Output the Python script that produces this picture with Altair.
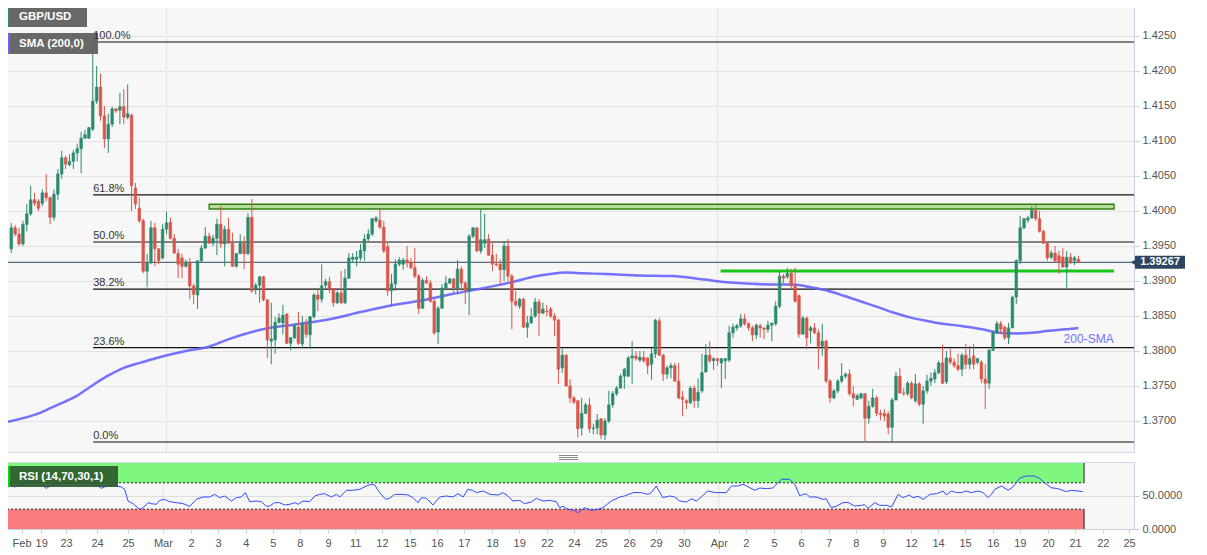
import json
import altair as alt
import pandas as pd

FONT = "Liberation Sans"

# ---------------- candle data (4h GBP/USD) ----------------
opens = [
    1.3946, 1.3976, 1.3967, 1.3953, 1.3981, 1.3996, 1.4016, 1.4014, 1.4011, 1.4026,
    1.4019, 1.3991, 1.4024, 1.4053, 1.4076, 1.4066, 1.4071, 1.4083, 1.4089, 1.4104,
    1.4104, 1.4117, 1.4157, 1.4177, 1.4136, 1.4103, 1.4124, 1.4146, 1.4144, 1.4149,
    1.4134, 1.4137, 1.4033, 1.4004, 1.3986, 1.3914, 1.3926, 1.3976, 1.3946, 1.3933,
    1.3974, 1.3984, 1.3961, 1.3939, 1.3933, 1.3921, 1.3926, 1.3893, 1.3880, 1.3929,
    1.3947, 1.3964, 1.3954, 1.3961, 1.3981, 1.3953, 1.3974, 1.3954, 1.3921, 1.3939,
    1.3954, 1.3939, 1.3991, 1.3889, 1.3894, 1.3906, 1.3873, 1.3814, 1.3816, 1.3841,
    1.3840, 1.3853, 1.3811, 1.3819, 1.3834, 1.3810, 1.3839, 1.3823, 1.3849, 1.3880,
    1.3874, 1.3894, 1.3899, 1.3889, 1.3869, 1.3883, 1.3869, 1.3904, 1.3931, 1.3931,
    1.3933, 1.3943, 1.3960, 1.3967, 1.3986, 1.3987, 1.3977, 1.3949, 1.3886, 1.3896,
    1.3924, 1.3924, 1.3930, 1.3926, 1.3919, 1.3907, 1.3861, 1.3901, 1.3897, 1.3871,
    1.3827, 1.3861, 1.3890, 1.3897, 1.3903, 1.3890, 1.3917, 1.3897, 1.3886, 1.3964,
    1.3976, 1.3943, 1.3954, 1.3960, 1.3937, 1.3924, 1.3924, 1.3916, 1.3950, 1.3907,
    1.3871, 1.3864, 1.3874, 1.3834, 1.3840, 1.3850, 1.3870, 1.3854, 1.3857, 1.3860,
    1.3850, 1.3844, 1.3776, 1.3794, 1.3750, 1.3733, 1.3729, 1.3690, 1.3711, 1.3723,
    1.3689, 1.3690, 1.3703, 1.3680, 1.3700, 1.3723, 1.3739, 1.3747, 1.3764, 1.3764,
    1.3790, 1.3793, 1.3787, 1.3791, 1.3790, 1.3781, 1.3796, 1.3843, 1.3794, 1.3767,
    1.3776, 1.3779, 1.3757, 1.3734, 1.3729, 1.3726, 1.3747, 1.3729, 1.3743, 1.3770,
    1.3794, 1.3786, 1.3789, 1.3783, 1.3786, 1.3787, 1.3826, 1.3833, 1.3836, 1.3846,
    1.3839, 1.3833, 1.3823, 1.3836, 1.3833, 1.3831, 1.3837, 1.3839, 1.3864, 1.3907,
    1.3906, 1.3911, 1.3893, 1.3879, 1.3824, 1.3847, 1.3829, 1.3833, 1.3826, 1.3807,
    1.3814, 1.3757, 1.3733, 1.3743, 1.3757, 1.3764, 1.3767, 1.3739, 1.3731, 1.3733,
    1.3739, 1.3704, 1.3721, 1.3733, 1.3711, 1.3711, 1.3710, 1.3691, 1.3730, 1.3764,
    1.3740, 1.3739, 1.3754, 1.3729, 1.3753, 1.3724, 1.3743, 1.3757, 1.3760, 1.3769,
    1.3783, 1.3756, 1.3790, 1.3784, 1.3779, 1.3774, 1.3794, 1.3781, 1.3793, 1.3784,
    1.3784, 1.3760, 1.3754, 1.3801, 1.3826, 1.3839, 1.3834, 1.3819, 1.3833, 1.3877,
    1.3929, 1.3976, 1.3987, 1.3990, 1.4001, 1.3989, 1.3971, 1.3954, 1.3934, 1.3940,
    1.3936, 1.3934, 1.3920, 1.3934, 1.3929, 1.3931,
]
highs = [
    1.3983, 1.3980, 1.3976, 1.3986, 1.4010, 1.4036, 1.4026, 1.4017, 1.4031, 1.4053,
    1.4021, 1.4031, 1.4060, 1.4086, 1.4079, 1.4081, 1.4087, 1.4096, 1.4113, 1.4116,
    1.4120, 1.4243, 1.4207, 1.4196, 1.4150, 1.4139, 1.4149, 1.4147, 1.4169, 1.4174,
    1.4181, 1.4139, 1.4040, 1.4019, 1.3989, 1.3939, 1.3986, 1.3983, 1.3947, 1.3981,
    1.3999, 1.3991, 1.3967, 1.3946, 1.3939, 1.3931, 1.3933, 1.3896, 1.3929, 1.3951,
    1.3977, 1.3969, 1.3966, 1.3989, 1.4007, 1.3979, 1.3990, 1.3969, 1.3940, 1.3967,
    1.3964, 1.3997, 1.4017, 1.3897, 1.3907, 1.3907, 1.3874, 1.3869, 1.3849, 1.3854,
    1.3866, 1.3853, 1.3820, 1.3839, 1.3856, 1.3850, 1.3846, 1.3850, 1.3883, 1.3889,
    1.3924, 1.3903, 1.3906, 1.3890, 1.3886, 1.3914, 1.3917, 1.3940, 1.3940, 1.3943,
    1.3953, 1.3967, 1.3974, 1.3990, 1.3993, 1.4004, 1.3986, 1.3954, 1.3910, 1.3931,
    1.3934, 1.3933, 1.3950, 1.3933, 1.3947, 1.3910, 1.3904, 1.3907, 1.3901, 1.3874,
    1.3864, 1.3896, 1.3907, 1.3904, 1.3904, 1.3930, 1.3921, 1.3900, 1.3967, 1.3977,
    1.3976, 1.4003, 1.3996, 1.3967, 1.3954, 1.3939, 1.3931, 1.3957, 1.3960, 1.3910,
    1.3886, 1.3876, 1.3876, 1.3850, 1.3861, 1.3876, 1.3874, 1.3869, 1.3866, 1.3863,
    1.3854, 1.3846, 1.3803, 1.3796, 1.3760, 1.3736, 1.3730, 1.3733, 1.3726, 1.3733,
    1.3696, 1.3710, 1.3704, 1.3704, 1.3743, 1.3743, 1.3750, 1.3767, 1.3776, 1.3793,
    1.3814, 1.3800, 1.3800, 1.3800, 1.3791, 1.3804, 1.3846, 1.3847, 1.3796, 1.3779,
    1.3783, 1.3783, 1.3783, 1.3743, 1.3731, 1.3750, 1.3751, 1.3761, 1.3796, 1.3810,
    1.3814, 1.3791, 1.3790, 1.3790, 1.3790, 1.3836, 1.3839, 1.3839, 1.3853, 1.3853,
    1.3841, 1.3836, 1.3839, 1.3839, 1.3833, 1.3843, 1.3840, 1.3871, 1.3914, 1.3910,
    1.3919, 1.3917, 1.3919, 1.3881, 1.3850, 1.3849, 1.3836, 1.3840, 1.3831, 1.3839,
    1.3816, 1.3760, 1.3746, 1.3760, 1.3783, 1.3769, 1.3774, 1.3750, 1.3739, 1.3740,
    1.3739, 1.3729, 1.3746, 1.3736, 1.3716, 1.3717, 1.3714, 1.3733, 1.3770, 1.3776,
    1.3747, 1.3757, 1.3757, 1.3767, 1.3756, 1.3750, 1.3766, 1.3769, 1.3774, 1.3786,
    1.3809, 1.3800, 1.3803, 1.3789, 1.3796, 1.3797, 1.3810, 1.3807, 1.3810, 1.3790,
    1.3787, 1.3781, 1.3803, 1.3829, 1.3843, 1.3843, 1.3836, 1.3840, 1.3879, 1.3931,
    1.3993, 1.3990, 1.3993, 1.4007, 1.4009, 1.4000, 1.3973, 1.3957, 1.3944, 1.3950,
    1.3943, 1.3947, 1.3943, 1.3940, 1.3936, 1.3936,
]
lows = [
    1.3940, 1.3964, 1.3950, 1.3950, 1.3971, 1.3993, 1.4007, 1.4000, 1.4007, 1.4014,
    1.3981, 1.3986, 1.4016, 1.4046, 1.4060, 1.4064, 1.4060, 1.4071, 1.4054, 1.4104,
    1.4103, 1.4114, 1.4153, 1.4129, 1.4090, 1.4083, 1.4120, 1.4140, 1.4124, 1.4124,
    1.4131, 1.4000, 1.4003, 1.3983, 1.3911, 1.3891, 1.3924, 1.3921, 1.3924, 1.3931,
    1.3967, 1.3959, 1.3939, 1.3904, 1.3904, 1.3919, 1.3874, 1.3867, 1.3860, 1.3926,
    1.3946, 1.3953, 1.3950, 1.3937, 1.3947, 1.3921, 1.3953, 1.3920, 1.3919, 1.3939,
    1.3917, 1.3937, 1.3883, 1.3881, 1.3869, 1.3871, 1.3790, 1.3781, 1.3796, 1.3839,
    1.3824, 1.3810, 1.3801, 1.3817, 1.3809, 1.3804, 1.3819, 1.3803, 1.3846, 1.3857,
    1.3869, 1.3890, 1.3883, 1.3863, 1.3867, 1.3867, 1.3867, 1.3903, 1.3926, 1.3921,
    1.3929, 1.3929, 1.3957, 1.3964, 1.3983, 1.3974, 1.3940, 1.3879, 1.3864, 1.3886,
    1.3921, 1.3916, 1.3919, 1.3917, 1.3904, 1.3853, 1.3861, 1.3896, 1.3869, 1.3823,
    1.3810, 1.3861, 1.3890, 1.3896, 1.3881, 1.3881, 1.3886, 1.3867, 1.3851, 1.3961,
    1.3941, 1.3939, 1.3947, 1.3936, 1.3914, 1.3921, 1.3896, 1.3900, 1.3900, 1.3831,
    1.3863, 1.3860, 1.3833, 1.3819, 1.3839, 1.3847, 1.3821, 1.3853, 1.3850, 1.3847,
    1.3821, 1.3753, 1.3769, 1.3749, 1.3726, 1.3724, 1.3676, 1.3679, 1.3710, 1.3683,
    1.3681, 1.3681, 1.3674, 1.3673, 1.3697, 1.3719, 1.3736, 1.3747, 1.3746, 1.3763,
    1.3753, 1.3786, 1.3784, 1.3783, 1.3767, 1.3759, 1.3790, 1.3793, 1.3757, 1.3760,
    1.3761, 1.3756, 1.3731, 1.3707, 1.3717, 1.3724, 1.3719, 1.3719, 1.3740, 1.3769,
    1.3783, 1.3773, 1.3779, 1.3747, 1.3760, 1.3784, 1.3819, 1.3829, 1.3833, 1.3836,
    1.3829, 1.3814, 1.3817, 1.3819, 1.3817, 1.3826, 1.3814, 1.3836, 1.3861, 1.3897,
    1.3903, 1.3890, 1.3869, 1.3819, 1.3824, 1.3803, 1.3811, 1.3824, 1.3774, 1.3793,
    1.3754, 1.3726, 1.3731, 1.3740, 1.3754, 1.3761, 1.3736, 1.3721, 1.3730, 1.3731,
    1.3671, 1.3696, 1.3719, 1.3707, 1.3701, 1.3700, 1.3681, 1.3669, 1.3729, 1.3739,
    1.3736, 1.3736, 1.3731, 1.3726, 1.3721, 1.3696, 1.3739, 1.3750, 1.3754, 1.3767,
    1.3753, 1.3753, 1.3781, 1.3776, 1.3771, 1.3764, 1.3774, 1.3774, 1.3774, 1.3781,
    1.3754, 1.3717, 1.3746, 1.3800, 1.3824, 1.3824, 1.3816, 1.3810, 1.3833, 1.3867,
    1.3924, 1.3974, 1.3983, 1.3989, 1.3986, 1.3969, 1.3953, 1.3929, 1.3931, 1.3926,
    1.3910, 1.3919, 1.3887, 1.3924, 1.3923, 1.3926,
]
closes = [
    1.3976, 1.3967, 1.3953, 1.3981, 1.3996, 1.4016, 1.4011, 1.4004, 1.4026, 1.4019,
    1.3991, 1.4024, 1.4053, 1.4076, 1.4067, 1.4071, 1.4083, 1.4089, 1.4104, 1.4109,
    1.4119, 1.4157, 1.4177, 1.4136, 1.4103, 1.4124, 1.4146, 1.4143, 1.4149, 1.4134,
    1.4139, 1.4036, 1.4010, 1.3986, 1.3914, 1.3926, 1.3976, 1.3946, 1.3929, 1.3974,
    1.3983, 1.3961, 1.3940, 1.3924, 1.3921, 1.3927, 1.3893, 1.3881, 1.3929, 1.3947,
    1.3964, 1.3954, 1.3961, 1.3981, 1.3953, 1.3974, 1.3954, 1.3921, 1.3939, 1.3954,
    1.3939, 1.3991, 1.3886, 1.3894, 1.3906, 1.3873, 1.3816, 1.3817, 1.3841, 1.3847,
    1.3851, 1.3811, 1.3819, 1.3836, 1.3811, 1.3839, 1.3824, 1.3849, 1.3880, 1.3874,
    1.3893, 1.3899, 1.3889, 1.3869, 1.3883, 1.3869, 1.3904, 1.3933, 1.3934, 1.3934,
    1.3944, 1.3960, 1.3967, 1.3989, 1.3990, 1.3977, 1.3943, 1.3886, 1.3896, 1.3924,
    1.3930, 1.3930, 1.3926, 1.3919, 1.3907, 1.3861, 1.3901, 1.3897, 1.3871, 1.3826,
    1.3861, 1.3890, 1.3897, 1.3903, 1.3890, 1.3917, 1.3897, 1.3886, 1.3964, 1.3976,
    1.3943, 1.3959, 1.3959, 1.3937, 1.3924, 1.3923, 1.3916, 1.3950, 1.3907, 1.3871,
    1.3866, 1.3874, 1.3834, 1.3840, 1.3849, 1.3870, 1.3854, 1.3860, 1.3856, 1.3850,
    1.3844, 1.3774, 1.3794, 1.3750, 1.3733, 1.3727, 1.3689, 1.3711, 1.3723, 1.3689,
    1.3690, 1.3701, 1.3680, 1.3700, 1.3723, 1.3739, 1.3747, 1.3764, 1.3774, 1.3790,
    1.3793, 1.3789, 1.3791, 1.3786, 1.3779, 1.3796, 1.3844, 1.3794, 1.3767, 1.3776,
    1.3779, 1.3757, 1.3733, 1.3731, 1.3726, 1.3747, 1.3729, 1.3741, 1.3769, 1.3794,
    1.3786, 1.3789, 1.3786, 1.3789, 1.3789, 1.3826, 1.3834, 1.3836, 1.3846, 1.3839,
    1.3833, 1.3823, 1.3837, 1.3833, 1.3831, 1.3837, 1.3840, 1.3864, 1.3907, 1.3904,
    1.3911, 1.3893, 1.3871, 1.3824, 1.3847, 1.3819, 1.3833, 1.3826, 1.3807, 1.3814,
    1.3757, 1.3733, 1.3743, 1.3757, 1.3764, 1.3767, 1.3739, 1.3733, 1.3736, 1.3739,
    1.3704, 1.3721, 1.3733, 1.3711, 1.3709, 1.3707, 1.3691, 1.3730, 1.3764, 1.3740,
    1.3739, 1.3754, 1.3733, 1.3753, 1.3724, 1.3743, 1.3757, 1.3761, 1.3769, 1.3783,
    1.3754, 1.3790, 1.3784, 1.3779, 1.3774, 1.3794, 1.3781, 1.3789, 1.3781, 1.3789,
    1.3760, 1.3754, 1.3801, 1.3826, 1.3839, 1.3831, 1.3819, 1.3833, 1.3877, 1.3929,
    1.3976, 1.3989, 1.3990, 1.4001, 1.3989, 1.3971, 1.3954, 1.3933, 1.3940, 1.3929,
    1.3927, 1.3920, 1.3934, 1.3927, 1.3933, 1.39267,
]

# 200-period SMA (candle index, value)
sma_idx = [-0.84, 7.6, 11.9, 16.3, 20.4, 24.7, 29.0, 33.1, 37.5, 41.8, 45.9, 50.2, 56.1,
           64.8, 73.2, 81.7, 90.3, 98.8, 104.6, 113.3, 121.8, 130.2, 134.5, 138.9, 142.9,
           147.3, 153.2, 161.9, 170.3, 178.7, 183.1, 187.4, 195.8, 201.7, 206.0, 210.4,
           214.5, 218.8, 223.2, 227.3, 231.6, 235.9, 240.0, 244.4, 250.2, 254.6, 258.9,
           263.0, 267.4, 271.7, 275.0]
sma_val = [1.3699, 1.3712, 1.3723, 1.3734, 1.3749, 1.3764, 1.3776, 1.3783, 1.3790, 1.3796,
           1.3801, 1.3805, 1.3817, 1.3831, 1.3838, 1.3845, 1.3856, 1.3866, 1.3871, 1.3881,
           1.3890, 1.3900, 1.3906, 1.3910, 1.3912, 1.3911, 1.3910, 1.3908, 1.3907, 1.3902,
           1.3899, 1.3897, 1.3895, 1.3895, 1.3891, 1.3886, 1.3879, 1.3871, 1.3863, 1.3855,
           1.3848, 1.3843, 1.3839, 1.3836, 1.3831, 1.3826, 1.3825, 1.3826, 1.3829, 1.3831,
           1.3833]

# RSI(14)
rsi_idx = [-0.84, 0.44, 2.14, 4.27, 6.82, 8.5, 10.23, 11.93, 14.48, 16.2,
           18.74, 21.3, 22.57, 24.27, 25.6, 27.25, 29.38, 30.24, 31.09, 32.36,
           34.07, 34.92, 36.19, 37.0, 38.32, 39.17, 40.45, 41.73, 43.4, 45.13,
           46.84, 48.54, 50.24, 51.9, 53.22, 54.5, 55.8, 57.48, 58.76, 60.0,
           61.06, 62.16, 63.9, 65.14, 66.42, 67.3, 68.55, 69.8, 71.1, 72.4,
           73.7, 74.51, 75.79, 77.5, 78.77, 80.04, 81.3, 83.02, 84.3, 85.2,
           86.85, 88.5, 90.26, 91.96, 93.24, 94.1, 95.37, 96.9, 97.9, 99.2,
           101.33, 102.6, 103.88, 105.16, 106.01, 107.3, 109.0, 110.7, 112.4, 114.1,
           115.4, 116.7, 117.9, 119.1, 120.1, 121.8, 123.5, 125.6, 126.9, 128.1,
           129.4, 131.1, 132.4, 134.1, 135.4, 137.1, 138.8, 140.5, 141.3, 142.2,
           143.5, 144.8, 146.0, 147.7, 149.4, 151.1, 152.4, 154.5, 156.7, 157.9,
           160.1, 162.2, 163.9, 164.8, 166.0, 167.7, 169.4, 170.7, 172.0, 173.7,
           175.0, 176.3, 177.5, 179.2, 180.9, 183.9, 185.2, 186.9, 188.2, 189.9,
           191.2, 192.4, 194.1, 195.8, 196.7, 198.0, 200.1, 201.4, 202.7, 203.5,
           204.4, 205.2, 206.9, 208.6, 209.4, 210.7, 212.0, 213.7, 215.0, 216.7,
           218.4, 219.2, 220.1, 221.8, 223.1, 224.8, 226.1, 227.8, 229.0, 230.7,
           231.6, 232.9, 234.2, 235.9, 237.6, 239.3, 240.1, 241.4, 242.7, 244.0,
           245.2, 246.5, 248.2, 249.5, 250.8, 251.6, 252.5, 254.2, 255.9, 257.1,
           258.8, 260.5, 262.6, 263.9, 265.7, 266.9, 268.6, 270.8, 272.0, 273.7,
           275.0]
rsi_val = [68.7, 70.2, 63.6, 68.7, 71.7, 68.7, 61.6, 67.5, 70.2, 68.7,
           72.7, 70.2, 68.7, 61.6, 65.0, 66.7, 63.6, 60.1, 42.4, 38.4,
           29.8, 32.0, 39.9, 38.4, 37.4, 43.4, 44.9, 41.4, 40.0, 38.4,
           34.3, 44.9, 48.5, 48.5, 52.5, 47.5, 50.0, 42.4, 47.5, 48.5,
           55.1, 41.4, 42.4, 41.4, 34.3, 35.0, 39.9, 39.9, 36.4, 37.4,
           39.9, 37.4, 42.4, 41.4, 50.0, 52.5, 53.5, 48.5, 52.5, 48.5,
           58.6, 58.6, 60.1, 65.2, 67.7, 66.7, 55.1, 44.9, 46.5, 52.5,
           52.5, 51.5, 47.5, 39.9, 47.5, 46.5, 36.4, 48.5, 50.0, 48.5,
           53.5, 48.5, 60.1, 58.6, 55.1, 57.6, 52.5, 51.5, 55.1, 50.0,
           42.4, 43.4, 38.4, 40.9, 46.5, 42.4, 43.4, 41.4, 32.3, 34.3,
           29.8, 28.8, 24.7, 32.3, 28.3, 29.8, 32.3, 42.4, 48.5, 50.0,
           55.1, 55.1, 52.5, 55.1, 65.2, 47.5, 50.0, 48.5, 42.4, 40.9,
           45.9, 42.4, 48.5, 57.6, 55.1, 55.1, 65.2, 65.2, 67.7, 62.6,
           58.6, 62.1, 61.1, 62.1, 67.7, 75.3, 75.3, 67.7, 50.0, 52.5,
           53.0, 48.5, 48.5, 44.9, 45.9, 32.3, 34.3, 39.9, 40.4, 34.8,
           35.8, 36.9, 31.3, 39.9, 35.8, 35.8, 33.3, 52.5, 47.5, 51.5,
           47.5, 49.5, 44.9, 52.5, 53.5, 57.6, 51.5, 57.6, 55.1, 55.1,
           57.6, 55.1, 57.6, 55.1, 47.5, 52.5, 60.1, 65.2, 58.6, 63.6,
           76.8, 80.3, 80.3, 76.8, 67.7, 62.6, 61.1, 56.6, 58.6, 57.6,
           56.6]

# Fibonacci retracement
fib_levels = [1.42414, 1.40231, 1.39557, 1.38883, 1.38049, 1.36700]
fib_labels = ["100.0%", "61.8%", "50.0%", "38.2%", "23.6%", "0.0%"]
fib_start = 21.1

# horizontal zones
zone_x = [51.0, 284.2]
zone_y = [1.40029, 1.40096]
support_x = [182.8, 284.2]
support_y = 1.39143

# axes
price_ticks = [1.370, 1.375, 1.380, 1.385, 1.390, 1.395, 1.400, 1.405, 1.410, 1.415, 1.420, 1.425]
rsi_ticks = [0, 50]
month_idx = [40.0, 182.0]
tick_pos = [3.9, 8.9, 15.25, 23.2, 31.1, 40.0, 47.2, 54.1, 61.2, 68.1, 75.0, 82.2, 89.1, 95.96,
            103.1, 110.0, 116.9, 124.1, 131.0, 138.1, 145.0, 151.9, 159.1, 165.95, 173.1,
            182.0, 188.9, 196.1, 203.0, 210.1, 217.0, 223.9, 231.1, 238.0, 244.9, 252.0,
            258.9, 266.1, 272.98, 280.1, 286.8]
tick_lab = ["Feb", "19", "23", "24", "25", "Mar", "2", "3", "4", "5", "8", "9", "11", "12",
            "15", "16", "17", "18", "19", "22", "24", "25", "26", "29", "30",
            "Apr", "2", "5", "6", "7", "8", "9", "12", "14", "15", "16", "19", "20", "21", "22", "25"]
band_end = 275.3

# ---------------- layout / style ----------------
W, H_MAIN, H_RSI = 1131, 451, 67
X_DOM = [-0.843, 288.05]
GREEN, RED = "#2c8a6e", "#d9564a"
AXC = "#c9cfe0"

xsc = alt.Scale(domain=X_DOM, nice=False, zero=False)
ysc = alt.Scale(domain=[1.365571, 1.43], nice=False, zero=False)
rsc = alt.Scale(domain=[0, 101.5], nice=False, zero=False)
cscale = alt.Scale(domain=["up", "down"], range=[GREEN, RED])

yax = alt.Axis(orient="right", values=price_ticks, format=".4f", title=None, grid=True,
               gridColor="#e3e3e3", tickSize=5, tickColor=AXC, domainColor=AXC,
               labelColor="#555", labelFontSize=11, labelPadding=3, labelFont=FONT)
rax = alt.Axis(orient="right", values=rsi_ticks, format=".4f", title=None, grid=True,
               gridColor="#dedede", tickSize=5, tickColor=AXC, domainColor=AXC,
               labelColor="#555", labelFontSize=11, labelPadding=3, labelFont=FONT)
label_expr = "%s[indexof(%s, datum.value)]" % (json.dumps(tick_lab), json.dumps(tick_pos))
xax = alt.Axis(orient="bottom", values=tick_pos, labelExpr=label_expr, title=None, grid=False,
               tickSize=4, tickColor=AXC, domainColor=AXC, labelColor="#555",
               labelFontSize=11, labelPadding=4, labelOverlap=False, labelFlush=False,
               labelFont=FONT)


def X(f):
    return alt.X(f, type="quantitative", scale=xsc, axis=None, title=None)


def XR(f):
    return alt.X(f, type="quantitative", scale=xsc, axis=xax, title=None)


def Y(f):
    return alt.Y(f, type="quantitative", scale=ysc, axis=yax, title=None)


def YR(f):
    return alt.Y(f, type="quantitative", scale=rsc, axis=rax, title=None)


one = pd.DataFrame({"a": [0]})


def box(x1, x2, y1, y2, fill, opacity=1.0):
    return alt.Chart(one).mark_rect(fill=fill, opacity=opacity).encode(
        x=alt.value(x1), x2=alt.value(x2), y=alt.value(y1), y2=alt.value(y2))


def label(x, y, text, color="white", size=11.5, weight="bold"):
    return alt.Chart(one).mark_text(text=text, align="left", baseline="middle", font=FONT,
                                    fontSize=size, fontWeight=weight, color=color).encode(
        x=alt.value(x), y=alt.value(y))


# ---------------- main panel ----------------
candles = pd.DataFrame({"i": list(range(len(closes))), "open": opens, "high": highs,
                        "low": lows, "close": closes})
base = alt.Chart(candles).transform_calculate(dir="datum.close >= datum.open ? 'up' : 'down'")

months = alt.Chart(pd.DataFrame({"m": month_idx})).mark_rule(color="#e3e3e3").encode(x=X("m"))

fib_df = pd.DataFrame({"level": fib_levels, "label": fib_labels, "start": [fib_start] * len(fib_levels)})
fib_rules = alt.Chart(fib_df).mark_rule(color="#111", strokeWidth=1.2).encode(
    x=X("start"), x2=alt.value(W), y=Y("level"))
fib_text = alt.Chart(fib_df).mark_text(align="left", baseline="bottom", dy=-1, font=FONT,
                                       fontSize=11, color="#333").encode(
    x=X("start"), y=Y("level"), text="label:N")

last_df = pd.DataFrame({"p": [closes[-1]]})
cur_line = alt.Chart(last_df).mark_rule(color="#2f4560", strokeWidth=1).encode(y=Y("p"))

zone = alt.Chart(pd.DataFrame({"x1": [zone_x[0]], "x2": [zone_x[1]], "y1": [zone_y[0]], "y2": [zone_y[1]]})).mark_rect(
    fill="#b5df9b", stroke="#2f7f10", strokeWidth=1.4).encode(x=X("x1"), x2="x2", y=Y("y1"), y2="y2")
support = alt.Chart(pd.DataFrame({"x1": [support_x[0]], "x2": [support_x[1]], "y": [support_y]})).mark_rule(
    color="#19c819", strokeWidth=3).encode(x=X("x1"), x2="x2", y=Y("y"))

sma = alt.Chart(pd.DataFrame({"i": sma_idx, "v": sma_val})).mark_line(
    color="#6464ff", strokeWidth=2.5, opacity=0.9, interpolate="monotone").encode(x=X("i"), y=Y("v"))
sma_lab = alt.Chart(pd.DataFrame({"i": [271.2], "v": [1.3817], "t": ["200-SMA"]})).mark_text(
    align="left", baseline="middle", font=FONT, fontSize=12, color="#7272ff").encode(
    x=X("i"), y=Y("v"), text="t:N")

wicks = base.mark_rule(strokeWidth=1).encode(
    x=X("i"), y=Y("low"), y2="high", color=alt.Color("dir:N", scale=cscale, legend=None))
bodies = base.mark_bar(size=2.6, strokeWidth=0.6).encode(
    x=X("i"), y=Y("open"), y2="close",
    color=alt.Color("dir:N", scale=cscale, legend=None),
    stroke=alt.Stroke("dir:N", scale=cscale, legend=None))

tag_box = alt.Chart(last_df).transform_calculate(
    lo="datum.p - 0.00093", hi="datum.p + 0.00093").mark_rect(fill="#2e4463").encode(
    x=alt.value(1132), x2=alt.value(1182), y=Y("lo:Q"), y2="hi:Q")
tag_tip = alt.Chart(last_df).mark_point(shape="triangle-left", filled=True, size=28,
                                        color="#2e4463", opacity=1).encode(
    x=alt.value(1130), y=Y("p"))
tag_text = alt.Chart(last_df).mark_text(align="center", baseline="middle", font=FONT,
                                        fontSize=11, fontWeight="bold", color="white").encode(
    x=alt.value(1157), y=Y("p"), text=alt.Text("p:Q", format=".5f"))

handle = [alt.Chart(one).mark_rule(color="#8a8a8a", strokeWidth=1).encode(
    x=alt.value(556), x2=alt.value(575), y=alt.value(yy)) for yy in (454.5, 456.5, 458.5)]

main = alt.layer(
    months, zone, support, fib_rules, cur_line, sma, wicks, bodies, sma_lab,
    box(5, 84, 5, 26, "#606060", 0.95), box(5, 7, 5, 26, GREEN), label(16, 16, "GBP/USD"),
    box(5, 95, 32, 53, "#606060", 0.95), box(5, 7, 32, 53, "#6464ff"), label(16, 43, "SMA (200,0)"),
    fib_text, tag_box, tag_tip, tag_text, *handle,
).properties(width=W, height=H_MAIN)

# ---------------- RSI panel ----------------
bands = pd.DataFrame({"x1": [X_DOM[0], X_DOM[0]], "x2": [band_end, band_end],
                      "y1": [70, 0], "y2": [100, 30], "fill": ["#7ff77f", "#f97d7d"]})
band_rects = alt.Chart(bands).mark_rect().encode(
    x=XR("x1"), x2="x2", y=YR("y1"), y2="y2", color=alt.Color("fill:N", scale=None))
band_dash = alt.Chart(pd.DataFrame({"x1": [X_DOM[0]] * 2, "x2": [band_end] * 2, "y": [70, 30]})).mark_rule(
    color="#222", strokeDash=[2, 2], strokeWidth=1).encode(x=XR("x1"), x2="x2", y=YR("y"))
band_edges = alt.Chart(pd.DataFrame({"x": [band_end, band_end, X_DOM[0] + 0.15, X_DOM[0] + 0.15],
                                     "y1": [70, 0, 70, 0], "y2": [100, 30, 100, 30]})).mark_rule(
    color="#222", strokeWidth=1).encode(x=XR("x"), y=YR("y1"), y2="y2")
rmonths = alt.Chart(pd.DataFrame({"m": month_idx})).mark_rule(color="#e0e0e0").encode(x=XR("m"))
rsi_line = alt.Chart(pd.DataFrame({"i": rsi_idx, "v": rsi_val})).mark_line(
    color="#2f4dff", strokeWidth=1).encode(x=XR("i"), y=YR("v"))

rsi = alt.layer(
    rmonths, band_rects, band_dash, band_edges, rsi_line,
    box(5, 115, 4, 25, "#2d5a2d", 0.92), box(5, 7, 4, 25, "#00dd00"), label(16, 14.5, "RSI (14,70,30,1)"),
).properties(width=W, height=H_RSI)

chart = alt.vconcat(main, rsi, spacing=10, bounds="flush").properties(
    padding={"left": -8, "top": -8, "right": 0, "bottom": 0}, background="white"
).configure_view(fill="#f7f7f7", stroke="#d2d8ea", strokeWidth=1).configure_text(font=FONT)

chart.save("out.html", embed_options={"renderer": "svg", "actions": False})
